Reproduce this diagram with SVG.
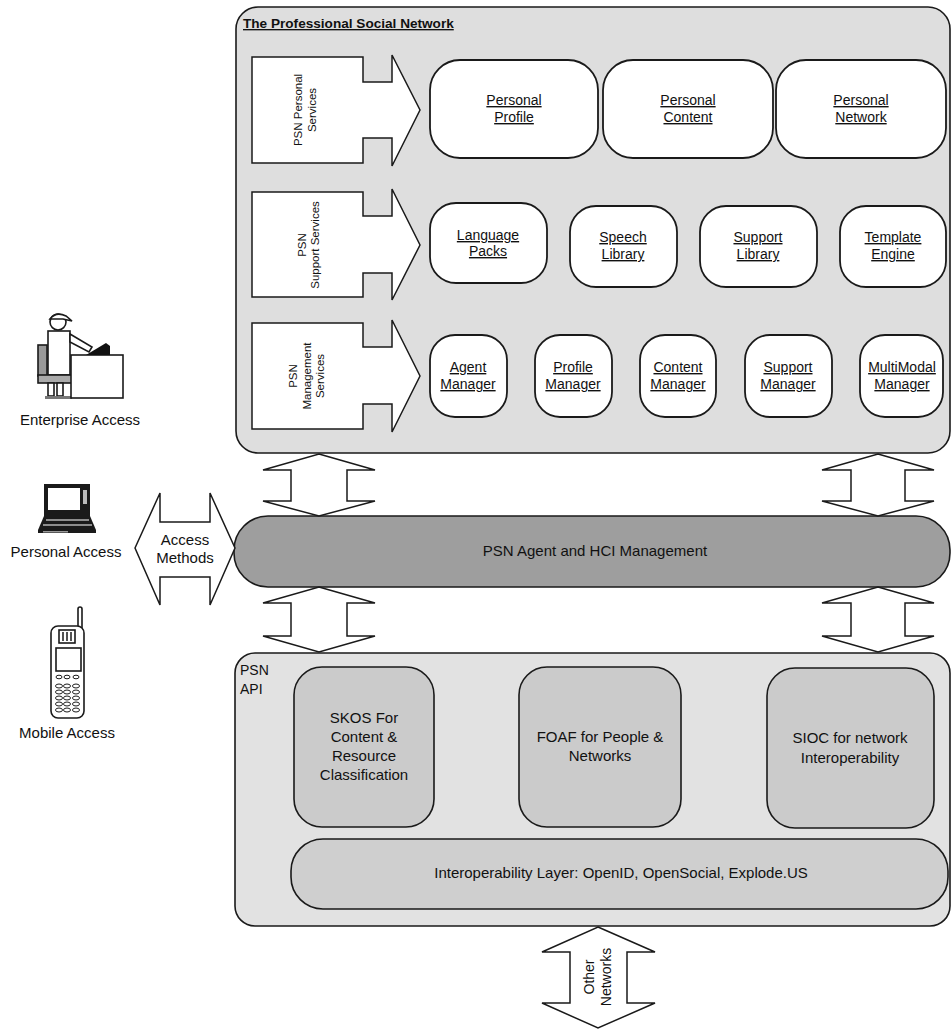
<svg xmlns="http://www.w3.org/2000/svg" width="952" height="1030" viewBox="0 0 952 1030">
<style>
text{font-family:"Liberation Sans",Arial,sans-serif;fill:#111;}
.ln{stroke:#1a1a1a;stroke-width:1.6;}
.node{fill:#fff;stroke:#1a1a1a;stroke-width:1.8;}
.arw{fill:#fff;stroke:#1a1a1a;stroke-width:1.5;stroke-linejoin:miter;}
.nl{font-size:14px;text-anchor:middle;text-decoration:underline;}
.sl{font-size:11.5px;text-anchor:middle;}
.big{font-size:15px;text-anchor:middle;}
.api{fill:#cbcbcb;stroke:#1a1a1a;stroke-width:1.6;}
</style>
<rect width="952" height="1030" fill="#fff"/>

<g id="psn-main">
<rect x="236" y="7" width="714" height="446" rx="22" fill="#dedede" class="ln"/>
<text x="243" y="28" font-size="13.6" font-weight="bold" text-decoration="underline">The Professional Social Network</text>
</g>

<g id="svc-personal">
<path class="arw" d="M252,57 H363 V82 H392 V55 L420,110 L392,166 V138 H363 V163 H252 Z"/>
<text class="sl" transform="translate(305,110) rotate(-90)"><tspan x="0" dy="-3">PSN Personal</tspan><tspan x="0" dy="14">Services</tspan></text>
</g>
<g id="svc-support">
<path class="arw" d="M252,192 H363 V216 H392 V189 L420,245 L392,300 V273 H363 V297 H252 Z"/>
<text class="sl" transform="translate(308,245) rotate(-90)"><tspan x="0" dy="-2">PSN</tspan><tspan x="0" dy="13">Support Services</tspan></text>
</g>
<g id="svc-management">
<path class="arw" d="M252,323 H363 V347 H392 V320 L420,376 L392,432 V404 H363 V429 H252 Z"/>
<text class="sl" transform="translate(307,376) rotate(-90)"><tspan x="0" dy="-10">PSN</tspan><tspan x="0" dy="13.5">Management</tspan><tspan x="0" dy="13.5">Services</tspan></text>
</g>

<g id="personal-profile"><rect class="node" x="430" y="60" width="168" height="98" rx="30"/><text class="nl" x="514" y="105">Personal</text><text class="nl" x="514" y="122">Profile</text></g>
<g id="personal-content"><rect class="node" x="603" y="60" width="170" height="98" rx="30"/><text class="nl" x="688" y="105">Personal</text><text class="nl" x="688" y="122">Content</text></g>
<g id="personal-network"><rect class="node" x="776" y="60" width="170" height="98" rx="30"/><text class="nl" x="861" y="105">Personal</text><text class="nl" x="861" y="122">Network</text></g>

<g id="language-packs"><rect class="node" x="430" y="203" width="117" height="80" rx="26"/><text class="nl" x="488" y="240">Language</text><text class="nl" x="488" y="256">Packs</text></g>
<g id="speech-library"><rect class="node" x="570" y="206" width="107" height="81" rx="26"/><text class="nl" x="623" y="242">Speech</text><text class="nl" x="623" y="259">Library</text></g>
<g id="support-library"><rect class="node" x="700" y="206" width="117" height="81" rx="26"/><text class="nl" x="758" y="242">Support</text><text class="nl" x="758" y="259">Library</text></g>
<g id="template-engine"><rect class="node" x="840" y="206" width="106" height="81" rx="26"/><text class="nl" x="893" y="242">Template</text><text class="nl" x="893" y="259">Engine</text></g>

<g id="agent-manager"><rect class="node" x="430" y="335" width="77" height="82" rx="25"/><text class="nl" x="468" y="372">Agent</text><text class="nl" x="468" y="389">Manager</text></g>
<g id="profile-manager"><rect class="node" x="535" y="335" width="77" height="82" rx="25"/><text class="nl" x="573" y="372">Profile</text><text class="nl" x="573" y="389">Manager</text></g>
<g id="content-manager"><rect class="node" x="640" y="335" width="76" height="82" rx="25"/><text class="nl" x="678" y="372">Content</text><text class="nl" x="678" y="389">Manager</text></g>
<g id="support-manager"><rect class="node" x="745" y="335" width="87" height="82" rx="25"/><text class="nl" x="788" y="372">Support</text><text class="nl" x="788" y="389">Manager</text></g>
<g id="multimodal-manager"><rect class="node" x="860" y="335" width="83" height="82" rx="25"/><text class="nl" x="902" y="372">MultiModal</text><text class="nl" x="902" y="389">Manager</text></g>

<g id="agent-hci">
<rect x="234" y="516" width="716" height="71" rx="34" fill="#9e9e9e" class="ln"/>
<text class="big" x="595" y="556">PSN Agent and HCI Management</text>
</g>

<g id="psn-api">
<rect x="235" y="653" width="715" height="273" rx="20" fill="#e2e2e2" class="ln"/>
<text x="240" y="675" font-size="14">PSN</text>
<text x="240" y="694" font-size="14">API</text>
</g>
<g id="skos"><rect class="api" x="294" y="667" width="140" height="160" rx="28"/>
<text class="big" x="364" y="723">SKOS For</text><text class="big" x="364" y="742">Content &amp;</text><text class="big" x="364" y="761">Resource</text><text class="big" x="364" y="780">Classification</text></g>
<g id="foaf"><rect class="api" x="519" y="667" width="162" height="160" rx="28"/>
<text class="big" x="600" y="742">FOAF for People &amp;</text><text class="big" x="600" y="761">Networks</text></g>
<g id="sioc"><rect class="api" x="767" y="668" width="167" height="160" rx="28"/>
<text class="big" x="850" y="743">SIOC for network</text><text class="big" x="850" y="763">Interoperability</text></g>
<g id="interop"><rect x="291" y="839" width="657" height="70" rx="32" fill="#cfcfcf" class="ln"/>
<text class="big" x="621" y="878">Interoperability Layer: OpenID, OpenSocial, Explode.US</text></g>

<g id="connectors">
<path class="arw" d="M319,454 L375,470 H347 V501 H375 L319,516 L263,501 H291 V470 H263 Z"/>
<path class="arw" d="M878,454 L934,470 H905 V501 H934 L878,516 L822,501 H851 V470 H822 Z"/>
<path class="arw" d="M319,587 L375,603 H347 V636 H375 L319,652 L263,636 H291 V603 H263 Z"/>
<path class="arw" d="M878,587 L934,603 H905 V636 H934 L878,652 L822,636 H851 V603 H822 Z"/>
<path class="arw" d="M135,548 L160,493 V522 H210 V493 L235,548 L210,605 V577 H160 V605 Z"/>
<text class="big" x="185" y="545">Access</text>
<text class="big" x="185" y="563">Methods</text>
<path class="arw" d="M598,927 L655,952 H627 V1003 H655 L598,1028 L542,1003 H570 V952 H542 Z"/>
<text font-size="14" text-anchor="middle" transform="translate(598,977) rotate(-90)"><tspan x="0" dy="-4">Other</tspan><tspan x="0" dy="17">Networks</tspan></text>
</g>

<g id="enterprise-access">
<rect x="38" y="345" width="9" height="31" fill="#999" class="ln" stroke-width="1.2"/>
<rect x="48" y="331" width="22" height="44" fill="#fff" class="ln" stroke-width="1.4"/>
<path d="M70,334 L92,347 L89,352 L70,342 Z" fill="#fff" class="ln" stroke-width="1.2"/>
<circle cx="58" cy="322" r="8" fill="#fff" class="ln" stroke-width="1.4"/>
<path d="M50,319 Q56,311 66,316 L72,321 L63,319 Z" fill="#fff" class="ln" stroke-width="1.2"/>
<rect x="38" y="375" width="35" height="8" fill="#aaa" class="ln" stroke-width="1.2"/>
<rect x="48" y="383" width="6" height="13" fill="#fff" class="ln" stroke-width="1.1"/>
<rect x="57" y="383" width="6" height="13" fill="#fff" class="ln" stroke-width="1.1"/>
<rect x="45" y="396" width="27" height="3" fill="#777"/>
<rect x="71" y="355" width="52" height="43" fill="#fff" class="ln" stroke-width="1.4"/>
<path d="M86,355 L106,343 L110,346 L110,355 Z" fill="#111"/>
<text x="80" y="425" font-size="15" text-anchor="middle">Enterprise Access</text>
</g>

<g id="personal-access">
<rect x="44" y="484" width="46" height="32" fill="#1a1a1a"/>
<rect x="48" y="488" width="32" height="22" fill="#fff"/>
<rect x="83" y="490" width="4" height="14" fill="#bbb"/>
<path d="M44,516 H90 L96,530 H38 Z" fill="#1a1a1a"/>
<path d="M46,520 H89 M43,525 H92" stroke="#fff" stroke-width="1.2"/>
<rect x="38" y="530" width="58" height="3" fill="#1a1a1a"/>
<rect x="43" y="531" width="25" height="1.5" fill="#999"/>
<text x="66" y="557" font-size="15" text-anchor="middle">Personal Access</text>
</g>

<g id="mobile-access">
<rect x="78" y="607" width="4" height="22" rx="2" fill="#fff" class="ln" stroke-width="1.2"/>
<rect x="51" y="626" width="33" height="92" rx="7" fill="#fff" class="ln" stroke-width="1.5"/>
<rect x="59" y="630" width="16" height="13" fill="#fff" class="ln" stroke-width="1.2"/>
<path d="M63,632 V641 M67,632 V641 M71,632 V641" stroke="#1a1a1a" stroke-width="1.5"/>
<rect x="56" y="648" width="25" height="23" fill="#fff" class="ln" stroke-width="1.2"/>
<g fill="#fff" stroke="#1a1a1a" stroke-width="1">
<ellipse cx="59" cy="677" rx="3" ry="1.8"/><ellipse cx="67" cy="677" rx="3" ry="1.8"/><ellipse cx="76" cy="677" rx="3" ry="1.8"/>
<ellipse cx="59" cy="686" rx="3.5" ry="2"/><ellipse cx="67" cy="686" rx="3.5" ry="2"/><ellipse cx="76" cy="686" rx="3.5" ry="2"/>
<ellipse cx="59" cy="692" rx="3.5" ry="2"/><ellipse cx="67" cy="692" rx="3.5" ry="2"/><ellipse cx="76" cy="692" rx="3.5" ry="2"/>
<ellipse cx="59" cy="698" rx="3.5" ry="2"/><ellipse cx="67" cy="698" rx="3.5" ry="2"/><ellipse cx="76" cy="698" rx="3.5" ry="2"/>
<ellipse cx="59" cy="704" rx="3.5" ry="2"/><ellipse cx="67" cy="704" rx="3.5" ry="2"/><ellipse cx="76" cy="704" rx="3.5" ry="2"/>
<ellipse cx="59" cy="710" rx="3.5" ry="2"/><ellipse cx="67" cy="710" rx="3.5" ry="2"/><ellipse cx="76" cy="710" rx="3.5" ry="2"/>
</g>
<text x="67" y="738" font-size="15" text-anchor="middle">Mobile Access</text>
</g>
</svg>
